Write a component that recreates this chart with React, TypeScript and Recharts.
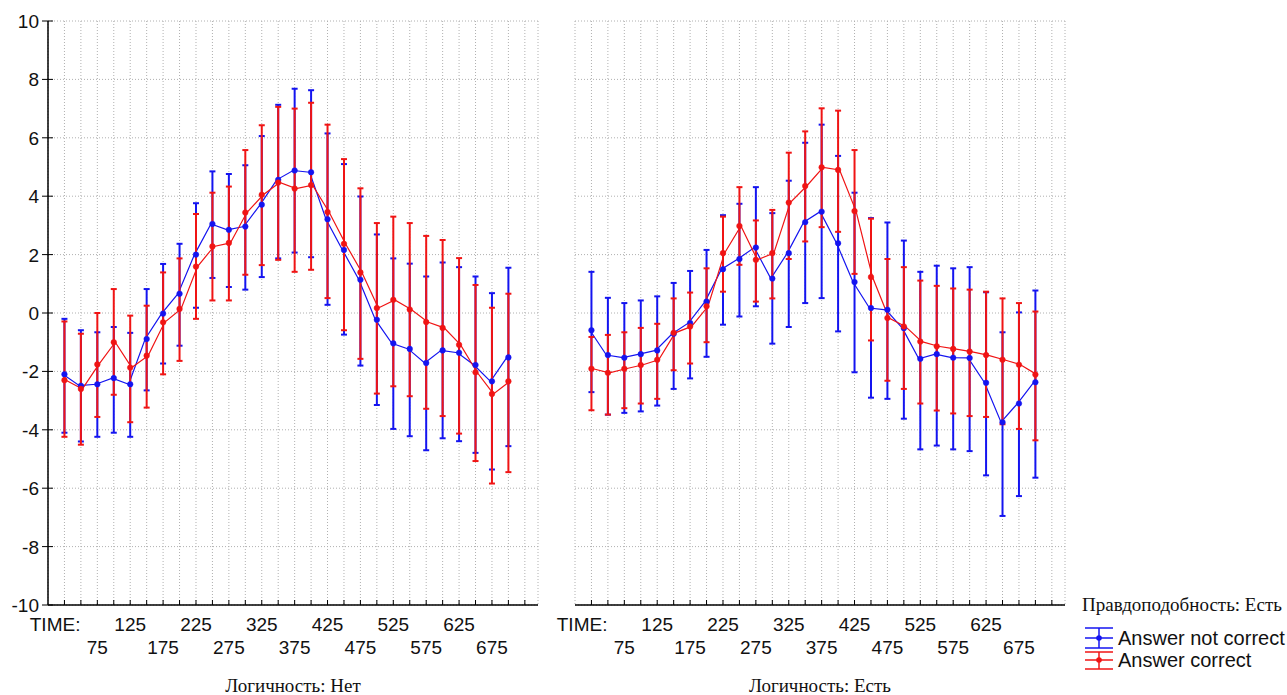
import React from 'react';
import { ComposedChart, Line, XAxis, YAxis, CartesianGrid, ErrorBar } from 'recharts';

// ---------- data ----------
const times = [25, 50, 75, 100, 125, 150, 175, 200, 225, 250, 275, 300, 325, 350, 375, 400, 425, 450, 475, 500, 525, 550, 575, 600, 625, 650, 675, 700];
const xTicks = [25, 50, 75, 100, 125, 150, 175, 200, 225, 250, 275, 300, 325, 350, 375, 400, 425, 450, 475, 500, 525, 550, 575, 600, 625, 650, 675, 700, 725];
const yTicks = [-10, -8, -6, -4, -2, 0, 2, 4, 6, 8, 10];
const topRowTicks = [25, 125, 225, 325, 425, 525, 625];
const topRowText = ['TIME:', '125', '225', '325', '425', '525', '625'];
const bottomRowTicks = [75, 175, 275, 375, 475, 575, 675];
const bottomRowText = ['75', '175', '275', '375', '475', '575', '675'];

// Логичность: Нет — Answer not correct (blue)
const blueNetMean = [-2.10, -2.49, -2.44, -2.23, -2.44, -0.89, -0.02, 0.66, 2.0, 3.05, 2.85, 2.96, 3.71, 4.56, 4.88, 4.82, 3.21, 2.16, 1.14, -0.23, -1.04, -1.23, -1.71, -1.28, -1.36, -1.78, -2.34, -1.52];
const blueNetHigh = [-0.2, -0.59, -0.66, -0.48, -0.68, 0.82, 1.68, 2.37, 3.76, 4.85, 4.76, 5.06, 6.06, 7.13, 7.68, 7.63, 6.15, 5.1, 3.99, 2.69, 1.87, 1.69, 1.25, 1.73, 1.57, 1.25, 0.68, 1.55];
const blueNetLow = [-4.1, -4.4, -4.24, -4.1, -4.24, -2.65, -1.73, -1.12, 0.18, 1.2, 0.89, 0.8, 1.23, 1.87, 2.07, 1.91, 0.28, -0.74, -1.8, -3.15, -3.97, -4.22, -4.7, -4.29, -4.39, -4.79, -5.36, -4.56];
// Логичность: Нет — Answer correct (red)
const redNetMean = [-2.30, -2.60, -1.76, -1.00, -1.87, -1.46, -0.32, 0.14, 1.59, 2.28, 2.40, 3.44, 4.05, 4.47, 4.26, 4.38, 3.46, 2.37, 1.39, 0.17, 0.45, 0.12, -0.31, -0.51, -1.09, -2.03, -2.77, -2.34];
const redNetHigh = [-0.29, -0.71, 0.0, 0.82, -0.09, 0.25, 1.39, 1.87, 3.39, 4.12, 4.33, 5.58, 6.43, 7.06, 7.0, 7.2, 6.45, 5.27, 4.27, 3.08, 3.3, 3.08, 2.64, 2.5, 1.88, 0.96, 0.18, 0.66];
const redNetLow = [-4.24, -4.51, -3.56, -2.8, -3.74, -3.24, -2.1, -1.64, -0.2, 0.43, 0.43, 1.31, 1.64, 1.82, 1.41, 1.48, 0.51, -0.59, -1.57, -2.76, -2.51, -2.85, -3.28, -3.53, -4.13, -5.07, -5.84, -5.45];

// Логичность: Есть — Answer not correct (blue)
const blueEstMean = [-0.59, -1.44, -1.53, -1.41, -1.28, -0.71, -0.34, 0.39, 1.50, 1.85, 2.24, 1.18, 2.05, 3.11, 3.47, 2.39, 1.06, 0.17, 0.11, -0.52, -1.57, -1.41, -1.53, -1.54, -2.39, -3.74, -3.10, -2.37];
const blueEstHigh = [1.41, 0.52, 0.34, 0.43, 0.57, 1.03, 1.44, 2.16, 3.35, 3.74, 4.31, 3.42, 4.53, 5.83, 6.45, 5.38, 4.12, 3.25, 3.1, 2.48, 1.41, 1.62, 1.53, 1.57, 0.71, -0.66, 0.02, 0.77];
const blueEstLow = [-2.71, -3.48, -3.42, -3.37, -3.17, -2.6, -2.24, -1.5, -0.4, -0.12, 0.23, -1.05, -0.48, 0.34, 0.51, -0.63, -2.03, -2.9, -2.94, -3.62, -4.67, -4.54, -4.67, -4.73, -5.56, -6.95, -6.27, -5.64];
// Логичность: Есть — Answer correct (red)
const redEstMean = [-1.91, -2.05, -1.91, -1.78, -1.60, -0.68, -0.46, 0.23, 2.05, 2.98, 1.82, 2.05, 3.78, 4.35, 4.99, 4.90, 3.49, 1.23, -0.17, -0.46, -0.98, -1.14, -1.23, -1.32, -1.44, -1.60, -1.77, -2.11];
const redEstHigh = [-0.82, -0.75, -0.66, -0.51, -0.37, 0.5, 0.7, 1.53, 3.3, 4.31, 3.17, 3.53, 5.49, 6.22, 7.01, 6.93, 5.58, 3.23, 1.85, 1.57, 1.11, 0.93, 0.84, 0.8, 0.73, 0.5, 0.34, 0.05];
const redEstLow = [-3.33, -3.48, -3.26, -3.1, -2.94, -1.96, -1.73, -1.0, 0.73, 1.65, 0.39, 0.5, 1.85, 2.45, 2.94, 2.78, 1.34, -0.94, -2.32, -2.6, -3.1, -3.34, -3.44, -3.53, -3.56, -3.81, -3.97, -4.36];

const panelTitles = ['Логичность: Нет', 'Логичность: Есть'];
const legendTitle = 'Правдоподобность: Есть';
const seriesNames = ['Answer not correct', 'Answer correct'];

// ---------- styles ----------
const BLUE = '#1414f0';
const RED = '#f01414';
const SANS = '"Liberation Sans", Arial, sans-serif';
const SERIF = '"Liberation Serif", "Times New Roman", serif';

function buildRows(bm: number[], blo: number[], bhi: number[], rm: number[], rlo: number[], rhi: number[]) {
  return times.map((t, i) => ({
    t,
    b: bm[i],
    bErr: [bm[i] - blo[i], bhi[i] - bm[i]],
    r: rm[i],
    rErr: [rm[i] - rlo[i], rhi[i] - rm[i]],
  }));
}

const rowsNet = buildRows(blueNetMean, blueNetLow, blueNetHigh, redNetMean, redNetLow, redNetHigh);
const rowsEst = buildRows(blueEstMean, blueEstLow, blueEstHigh, redEstMean, redEstLow, redEstHigh);

const XTick = (props: any) => {
  const { x, y, payload } = props;
  const v = payload.value;
  const ti = topRowTicks.indexOf(v);
  const bi = bottomRowTicks.indexOf(v);
  return (
    <g>
      <line x1={x} x2={x} y1={y} y2={y - 5} stroke="#000" strokeWidth={1} />
      {ti >= 0 && (
        <text x={ti === 0 ? x + 16 : x} y={y + 26} textAnchor={ti === 0 ? 'end' : 'middle'} fontSize={19} fontFamily={SANS} fill="#111">
          {topRowText[ti]}
        </text>
      )}
      {bi >= 0 && (
        <text x={x} y={y + 49} textAnchor="middle" fontSize={19} fontFamily={SANS} fill="#111">
          {bottomRowText[bi]}
        </text>
      )}
    </g>
  );
};

const YTickLabeled = (props: any) => {
  const { x, y, payload } = props;
  return (
    <g>
      <line x1={x - 6} x2={x + 5} y1={y} y2={y} stroke="#000" strokeWidth={1} />
      <text x={x - 9} y={y + 7} textAnchor="end" fontSize={19} fontFamily={SANS} fill="#111">
        {payload.value}
      </text>
    </g>
  );
};

const YTickMark = (props: any) => {
  const { x, y } = props;
  return <line x1={x - 5} x2={x + 5} y1={y} y2={y} stroke="#000" strokeWidth={1} />;
};

function Panel({ rows, labeled, left, width, marginLeft, yWidth, title }: any) {
  const plotLeft = marginLeft + yWidth;
  const plotW = 490;
  return (
    <div style={{ position: 'absolute', left, top: 0, width, height: 695 }}>
      <ComposedChart
        width={width}
        height={695}
        data={rows}
        margin={{ top: 21, right: width - plotLeft - plotW, bottom: 30, left: marginLeft }}
      >
        <CartesianGrid stroke="#b0b0b0" strokeDasharray="1 2" strokeWidth={1} />
        <XAxis
          dataKey="t"
          type="number"
          domain={[0, 745]}
          ticks={xTicks}
          interval={0}
          allowDataOverflow
          height={60}
          tickSize={0}
          tickMargin={0}
          tickLine={false}
          axisLine={{ stroke: '#000', strokeWidth: 1.5 }}
          tick={<XTick />}
        />
        <YAxis
          type="number"
          domain={[-10, 10]}
          ticks={yTicks}
          interval={0}
          width={yWidth}
          tickSize={0}
          tickMargin={0}
          tickLine={false}
          axisLine={{ stroke: '#000', strokeWidth: 1.5 }}
          tick={labeled ? <YTickLabeled /> : <YTickMark />}
        />
        <Line
          className="seriesBlue"
          dataKey="b"
          stroke={BLUE}
          strokeWidth={1.2}
          dot={{ r: 2.8, fill: BLUE, stroke: BLUE, strokeWidth: 0.5 }}
          isAnimationActive={false}
        >
          <ErrorBar dataKey="bErr" direction="y" width={3} stroke={BLUE} strokeWidth={2} />
        </Line>
        <Line
          className="seriesRed"
          dataKey="r"
          stroke={RED}
          strokeWidth={1.2}
          dot={{ r: 2.8, fill: RED, stroke: RED, strokeWidth: 0.5 }}
          isAnimationActive={false}
        >
          <ErrorBar dataKey="rErr" direction="y" width={3} stroke={RED} strokeWidth={2} />
        </Line>
      </ComposedChart>
      <div
        style={{
          position: 'absolute',
          left: plotLeft,
          width: plotW,
          top: 676,
          textAlign: 'center',
          fontFamily: SERIF,
          fontSize: 19,
          color: '#111',
          lineHeight: '20px',
        }}
      >
        {title}
      </div>
    </div>
  );
}

function Legend() {
  return (
    <svg style={{ position: 'absolute', left: 1075, top: 590 }} width={212} height={90}>
      <text x={7} y={21} fontFamily={SERIF} fontSize={19} fill="#111">{legendTitle}</text>
      {/* blue entry */}
      <g stroke={BLUE} strokeWidth={1.5}>
        <line x1={10} x2={38} y1={38} y2={38} />
        <line x1={10} x2={38} y1={48} y2={48} />
        <line x1={10} x2={38} y1={58} y2={58} />
        <line x1={24} x2={24} y1={38} y2={58} />
      </g>
      <circle cx={24} cy={48} r={2.8} fill={BLUE} />
      <text x={43} y={55} fontFamily={SANS} fontSize={20} fill="#111">{seriesNames[0]}</text>
      {/* red entry */}
      <g stroke={RED} strokeWidth={1.5}>
        <line x1={10} x2={38} y1={62} y2={62} />
        <line x1={10} x2={38} y1={70} y2={70} />
        <line x1={10} x2={38} y1={79} y2={79} />
        <line x1={24} x2={24} y1={62} y2={79} />
      </g>
      <circle cx={24} cy={70} r={2.8} fill={RED} />
      <text x={43} y={77} fontFamily={SANS} fontSize={20} fill="#111">{seriesNames[1]}</text>
    </svg>
  );
}

export default function App() {
  return (
    <div style={{ position: 'absolute', left: 0, top: 0, width: 1287, height: 695, background: '#fff', overflow: 'hidden' }}>
      <style>{`.seriesBlue { transform: translateX(-1.5px); } .seriesRed { transform: translateX(1.5px); }`}</style>
      <Panel rows={rowsNet} labeled left={0} width={560} marginLeft={8} yWidth={40} title={panelTitles[0]} />
      <Panel rows={rowsEst} labeled={false} left={540} width={550} marginLeft={35} yWidth={0} title={panelTitles[1]} />
      <Legend />
    </div>
  );
}
